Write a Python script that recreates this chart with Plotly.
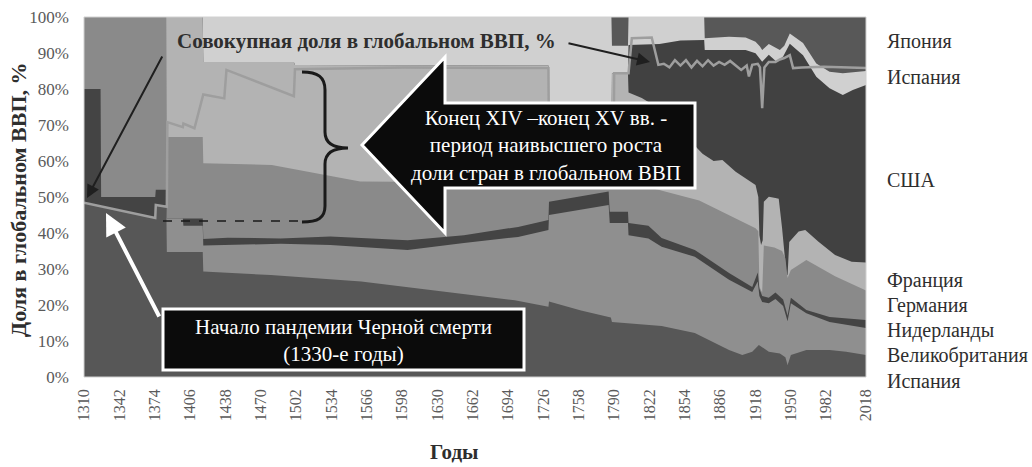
import plotly.graph_objects as go

# ---------------- data (upper edge of each stacked layer, % of total) ----------------
# Layer 1 (bottom) "Испания"
esp_low_x = [1310, 1374.5, 1375, 1384.5, 1385, 1417.5, 1418, 1479, 1561, 1652, 1700, 1730.5, 1731, 1760, 1787,
             1788, 1833, 1863, 1894, 1906, 1915, 1921, 1930, 1940, 1945, 1947, 1950, 1964, 1985, 2000, 2018]
esp_low_top = [48.5, 44.2, 47.6, 47.2, 34.7, 34.7, 29.3, 28.3, 26.5, 23, 21.3, 19.5, 21.0, 18.5, 16.5,
               15.3, 14.2, 12.2, 7.5, 6.1, 7, 8.9, 7, 6.5, 5.5, 3.3, 6.1, 7.5, 7.5, 7, 6.1]
# Layer 2 "Великобритания"
gbr_x = [1310, 1374.5, 1375, 1384.5, 1385, 1399.5, 1400, 1417.5, 1418, 1488, 1533, 1603, 1654, 1703, 1730.5,
         1731, 1785, 1786, 1802.5, 1803, 1821, 1833, 1863, 1894, 1915, 1920, 1921.5, 1924, 1930, 1936, 1943,
         1947, 1950, 1964, 1985, 2018]
gbr_top = [48.5, 44.2, 47.6, 47.2, 44, 44, 42, 42, 36.5, 37, 36.7, 35.3, 37.2, 38.9, 40.8,
           45, 47.8, 42.8, 42.8, 39.4, 38.5, 36.2, 33.4, 27, 23.6, 26.5, 22.5, 20.8, 20.5, 21.7, 19.7,
           15.5, 20.5, 17.7, 15.3, 13.6]
# Layer 3 "Нидерланды"
nld_x = [1310, 1325, 1325.5, 1374.5, 1375, 1384.5, 1385, 1417.5, 1418, 1440, 1488, 1533, 1603, 1654, 1703,
         1730.5, 1731, 1785, 1786, 1802.5, 1803, 1821, 1833, 1863, 1894, 1915, 1920, 1921.5, 1924, 1930,
         1936, 1943, 1947, 1950, 1964, 1985, 2018]
nld_top = [80, 80, 50, 50, 52, 52, 44, 44, 38.3, 38.7, 38.5, 39, 38, 39.4, 41.7,
           43.6, 48.7, 51.5, 45.9, 45.9, 42.8, 42, 38.6, 35.3, 28.9, 25, 29, 24.5, 22.5, 22,
           23.5, 21.5, 17, 22, 18.6, 16.7, 15.8]
# Layer 4 "Германия"
deu_x = [1310, 1384.5, 1385, 1417.5, 1418, 1480, 1560, 1700, 1800, 1830, 1867, 1888, 1918, 1920.5, 1921.5,
         1924, 1925.5, 1935, 1942, 1945, 1947, 1950, 1964, 1990, 2018]
deu_top = [100, 100, 66.7, 66.7, 59.4, 58.9, 54.3, 54, 54, 52, 49, 45.9, 41.3, 40.5, 25,
           23.5, 36.5, 36, 35, 33, 27.5, 29.7, 32.5, 28, 24]
# Layer 5 "Франция"
fra_x = [1310, 1417.5, 1418, 1500, 1501, 1730.5, 1731, 1787.5, 1788, 1802.5, 1803, 1815, 1831, 1845, 1861,
         1870, 1880, 1888, 1900, 1910, 1918, 1920.5, 1921.5, 1923, 1924.5, 1925.5, 1930, 1936, 1939, 1942,
         1944, 1946, 1947, 1948.5, 1957, 1963, 1975, 1990, 2005, 2018]
fra_top = [100, 100, 87.5, 87.5, 86.7, 86.5, 65, 65, 84.4, 84.4, 79, 77.5, 74.5, 70, 65,
           62, 60, 60.3, 57, 55, 53.3, 50, 39.4, 36.7, 38, 48.7, 50.1, 49.7, 49.5, 41.4,
           34, 28.5, 28.3, 37.5, 40.4, 40.8, 37.6, 33.9, 32, 31.8]
# Layer 6 "США"
usa_x = [1310, 1417.5, 1418, 1500, 1501, 1730.5, 1731, 1787.5, 1788, 1802.5, 1803, 1831, 1850, 1871.5,
         1872, 1909, 1918, 1924, 1930, 1937, 1943, 1949, 1961, 1973, 1985, 1997, 2006, 2018]
usa_top = [100, 100, 87.5, 87.5, 86.7, 86.5, 65, 65, 84.4, 84.4, 92.2, 92.5, 93.5, 93.6,
           90.8, 90.8, 89.9, 87.6, 89.5, 87.6, 89, 92.6, 89.4, 83.4, 80.2, 78.3, 79.7, 81.1]
# Layer 7 "Испания" (upper label)
esp_up_x = [1310, 1787.5, 1788, 1802.5, 1803, 1871.5, 1872, 1894, 1909, 1918, 1922, 1924, 1930, 1940,
            1944, 1949, 1961, 1973, 1985, 1997, 2018]
esp_up_top = [100, 100, 92, 92, 100, 100, 94.1, 94.5, 94.3, 93.1, 91.8, 90.8, 92.5, 90.8,
              92, 95.4, 92.8, 87.1, 84.8, 84.4, 85]
# Layer 8 "Япония"
jpn_x = [1310, 2018]
jpn_top = [100, 100]

# Cumulative share of the countries in global GDP, %
total_x = [1310, 1374.5, 1375, 1385, 1385.5, 1399.5, 1400, 1410, 1418, 1437, 1439, 1500, 1501, 1600,
           1730.5, 1731, 1789.5, 1790, 1803, 1806, 1824, 1830, 1835, 1840, 1845, 1850, 1855, 1860,
           1865, 1870, 1875, 1880, 1885, 1890, 1895, 1900, 1905, 1910, 1912, 1915, 1920, 1922, 1924,
           1926, 1930, 1936, 1940, 1944, 1949, 1952, 1960, 1980, 2000, 2018]
total_y = [48.4, 44.2, 47.8, 47.3, 70.8, 69.4, 70.4, 69.1, 78.5, 77.4, 85.3, 78, 85.5, 86,
           85.8, 65, 65, 84.4, 84.4, 94.1, 94.3, 86.7, 87, 86, 88, 86.5, 88, 86,
           87.8, 86.3, 88, 86.5, 87.5, 86.7, 87.8, 86.5, 85.3, 86.5, 83.5, 86.7, 87, 86, 74.7,
           86, 87.5, 87.5, 88.2, 88.6, 89.4, 85.8, 86, 86.2, 85.9, 85.8]

tick_years = [1310, 1342, 1374, 1406, 1438, 1470, 1502, 1534, 1566, 1598, 1630, 1662, 1694, 1726,
              1758, 1790, 1822, 1854, 1886, 1918, 1950, 1982, 2018]
y_ticks = [0, 10, 20, 30, 40, 50, 60, 70, 80, 90, 100]
y_tick_labels = [f"{v}%" for v in y_ticks]

# right-hand labels (text, vertical pixel centre)
right_labels = [("Япония", 41), ("Испания", 77), ("США", 180), ("Франция", 280),
                ("Германия", 305), ("Нидерланды", 330), ("Великобритания", 355), ("Испания", 381)]

# ---------------- layout geometry ----------------
W, H = 1032, 467
L_PX, R_PX, T_PX, B_PX = 84, 866, 17, 377
SERIF = "Liberation Serif"


def xp(px):
    return (px - L_PX) / (R_PX - L_PX)


def yp(py):
    return (B_PX - py) / (B_PX - T_PX)


layers = [  # drawn top first (painter's order)
    (jpn_x, jpn_top, "#585858"),
    (esp_up_x, esp_up_top, "#d0d0d0"),
    (usa_x, usa_top, "#414141"),
    (fra_x, fra_top, "#b3b3b3"),
    (deu_x, deu_top, "#8a8a8a"),
    (nld_x, nld_top, "#444444"),
    (gbr_x, gbr_top, "#8f8f8f"),
    (esp_low_x, esp_low_top, "#575757"),
]

fig = go.Figure()
for x, top, col in layers:
    fig.add_trace(go.Scatter(x=x, y=top, mode="lines", fill="tozeroy", fillcolor=col,
                             line=dict(width=0, color=col), showlegend=False, hoverinfo="skip"))

fig.add_trace(go.Scatter(x=total_x, y=total_y, mode="lines", line=dict(color="#9e9e9e", width=2.5),
                         showlegend=False, hoverinfo="skip"))

shapes = []
# plot border
shapes.append(dict(type="rect", xref="paper", yref="paper", x0=0, x1=1, y0=0, y1=1,
                   line=dict(color="#d0d0d0", width=1), layer="above"))

# big black arrow
arrow_pts = [(362, 145), (445, 57), (445, 103), (695, 103), (695, 188), (445, 188), (445, 233)]
path = "M " + " L ".join(f"{xp(a):.5f},{yp(b):.5f}" for a, b in arrow_pts) + " Z"
shapes.append(dict(type="path", xref="paper", yref="paper", path=path, fillcolor="#0b0b0b",
                   line=dict(color="white", width=3), layer="above"))

# black box
shapes.append(dict(type="rect", xref="paper", yref="paper", x0=xp(163), x1=xp(524), y0=yp(370), y1=yp(309),
                   fillcolor="#0b0b0b", line=dict(color="white", width=3), layer="above"))

# dashed line
shapes.append(dict(type="line", xref="paper", yref="paper", x0=xp(163), x1=xp(302), y0=yp(221), y1=yp(221),
                   line=dict(color="#1a1a1a", width=1.5, dash="dash"), layer="above"))

# curly brace
bp = [("M", [(302, 72)]), ("C", [(318, 72), (325, 77), (325, 90)]), ("L", [(325, 132)]),
      ("C", [(325, 142), (331, 148), (348, 148)]), ("C", [(331, 148), (325, 154), (325, 164)]),
      ("L", [(325, 206)]), ("C", [(325, 218), (318, 222), (302, 222)])]
bpath = " ".join(cmd + " " + " ".join(f"{xp(a):.5f},{yp(b):.5f}" for a, b in pts) for cmd, pts in bp)
shapes.append(dict(type="path", xref="paper", yref="paper", path=bpath,
                   line=dict(color="#1a1a1a", width=3), layer="above"))

ann = []
ann.append(dict(xref="paper", yref="paper", x=xp(175), y=yp(41), xanchor="left", yanchor="middle",
                text="<b>Совокупная доля в глобальном ВВП, %</b>", showarrow=False,
                font=dict(family=SERIF, size=21, color="#2e2e2e")))
# dark arrows from the title text
ann.append(dict(xref="paper", yref="paper", x=xp(87), y=yp(198), ax=163 - 87, ay=55 - 198, text="",
                showarrow=True, arrowhead=2, arrowsize=1.3, arrowwidth=2, arrowcolor="#1f1f1f"))
ann.append(dict(xref="paper", yref="paper", x=xp(650), y=yp(62), ax=567 - 650, ay=43 - 62, text="",
                showarrow=True, arrowhead=2, arrowsize=1.3, arrowwidth=2, arrowcolor="#1f1f1f"))
# white arrow from the box
ann.append(dict(xref="paper", yref="paper", x=xp(106), y=yp(213), ax=160 - 106, ay=318 - 213, text="",
                showarrow=True, arrowhead=2, arrowsize=1.1, arrowwidth=4, arrowcolor="white"))

ann.append(dict(xref="paper", yref="paper", x=xp(546), y=yp(145), xanchor="center", yanchor="middle",
                text="Конец XIV –конец XV вв. -<br>период наивысшего роста<br>доли стран в глобальном ВВП",
                align="center", showarrow=False, font=dict(family=SERIF, size=21, color="white")))
ann.append(dict(xref="paper", yref="paper", x=xp(343), y=yp(340), xanchor="center", yanchor="middle",
                text="Начало пандемии Черной смерти<br>(1330-е годы)",
                align="center", showarrow=False, font=dict(family=SERIF, size=21, color="white")))

for txt, py in right_labels:
    ann.append(dict(xref="paper", yref="paper", x=xp(885), y=yp(py), xanchor="left", yanchor="middle",
                    text=txt, showarrow=False, font=dict(family=SERIF, size=20, color="#2e2e2e")))

ann.append(dict(xref="paper", yref="paper", x=xp(18), y=yp(200), xanchor="center", yanchor="middle",
                textangle=-90, text="<b>Доля в глобальном ВВП, %</b>", showarrow=False,
                font=dict(family=SERIF, size=22, color="#2e2e2e")))
ann.append(dict(xref="paper", yref="paper", x=xp(454), y=yp(466), xanchor="center", yanchor="bottom",
                text="<b>Годы</b>", showarrow=False, font=dict(family=SERIF, size=21, color="#2e2e2e")))

fig.update_layout(
    width=W, height=H,
    margin=dict(l=L_PX, r=W - R_PX, t=T_PX, b=H - B_PX, pad=0, autoexpand=False),
    paper_bgcolor="white", plot_bgcolor="white",
    shapes=shapes, annotations=ann,
    xaxis=dict(range=[1310, 2018], tickmode="array", tickvals=tick_years,
               ticktext=[str(v) for v in tick_years], tickangle=-90, showgrid=False, zeroline=False,
               showline=False, ticks="", ticklabelstandoff=8, automargin=False,
               tickfont=dict(family=SERIF, size=16, color="#5a5a5a")),
    yaxis=dict(range=[0, 100], tickmode="array", tickvals=y_ticks, ticktext=y_tick_labels,
               showgrid=False, zeroline=False, showline=False, ticks="", ticklabelstandoff=14,
               automargin=False, tickfont=dict(family=SERIF, size=17, color="#5a5a5a")),
)

fig.write_html("out.html", config={"displayModeBar": False},
               post_script="document.body.style.margin='0px';")
